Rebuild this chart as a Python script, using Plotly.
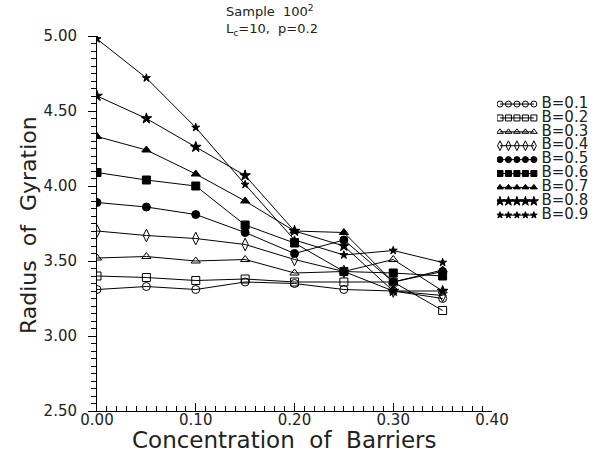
import plotly.graph_objects as go

conc = [0.00, 0.05, 0.10, 0.15, 0.20, 0.25, 0.30, 0.35]
b_labels = ["B=0.1", "B=0.2", "B=0.3", "B=0.4", "B=0.5", "B=0.6", "B=0.7", "B=0.8", "B=0.9"]
rg_b01 = [3.31, 3.33, 3.31, 3.36, 3.35, 3.31, 3.30, 3.25]
rg_b02 = [3.40, 3.39, 3.37, 3.38, 3.36, 3.36, 3.36, 3.17]
rg_b03 = [3.52, 3.53, 3.50, 3.51, 3.42, 3.43, 3.51, 3.30]
rg_b04 = [3.70, 3.67, 3.65, 3.61, 3.51, 3.43, 3.30, 3.27]
rg_b05 = [3.89, 3.86, 3.81, 3.69, 3.55, 3.64, 3.36, 3.43]
rg_b06 = [4.09, 4.04, 4.00, 3.74, 3.62, 3.43, 3.42, 3.40]
rg_b07 = [4.33, 4.24, 4.08, 3.90, 3.70, 3.69, 3.36, 3.44]
rg_b08 = [4.60, 4.45, 4.26, 4.07, 3.70, 3.60, 3.30, 3.30]
rg_b09 = [4.98, 4.72, 4.39, 4.01, 3.64, 3.54, 3.57, 3.49]
series = [rg_b01, rg_b02, rg_b03, rg_b04, rg_b05, rg_b06, rg_b07, rg_b08, rg_b09]

x_ticks = [0.00, 0.10, 0.20, 0.30, 0.40]
x_ticktext = ["0.00", "0.10", "0.20", "0.30", "0.40"]
y_ticks = [2.50, 3.00, 3.50, 4.00, 4.50, 5.00]
y_ticktext = ["2.50", "3.00", "3.50", "4.00", "4.50", "5.00"]

# legend key: five sample markers per row, row index per series
legend_key_x = [0, 1, 2, 3, 4]
legend_text_x = [4.9]

symbols = ["circle-open", "square-open", "triangle-up-open", "diamond-tall-open",
           "circle", "square", "triangle-up", "star", "star"]
sizes = [8, 8, 8, 9, 8, 8, 8, 8, 6]
key_sizes = [6, 6, 6, 7, 6, 6, 6, 7, 5]

FONT = "DejaVu Sans"
TXT = "#222"
W, H = 608, 456
L, R, T, B = 97, 8, 36, 45
PW = W - L - R
PH = H - T - B


def px_x(p):
    return (p - L) / PW


def px_y(p):
    return (H - B - p) / PH


fig = go.Figure()
for lab, ys, sym, sz in zip(b_labels, series, symbols, sizes):
    fig.add_trace(go.Scatter(
        x=conc, y=ys, name=lab, mode="lines+markers",
        line=dict(color="black", width=1),
        marker=dict(symbol=sym, size=sz, color="black", line=dict(color="black", width=1)),
        showlegend=False,
    ))

for i, (lab, sym, ks) in enumerate(zip(b_labels, symbols, key_sizes)):
    fig.add_trace(go.Scatter(
        x=legend_key_x, y=[i] * len(legend_key_x), mode="lines+markers",
        line=dict(color="black", width=1),
        marker=dict(symbol=sym, size=ks, color="black", line=dict(color="black", width=1)),
        xaxis="x2", yaxis="y2", showlegend=False, hoverinfo="skip",
    ))
    fig.add_trace(go.Scatter(
        x=legend_text_x, y=[i], mode="text", text=[lab], textposition="middle right",
        textfont=dict(size=15, family=FONT, color=TXT),
        xaxis="x2", yaxis="y2", showlegend=False, hoverinfo="skip",
    ))

fig.update_layout(
    width=W, height=H, autosize=False,
    margin=dict(l=L, r=R, t=T, b=B, autoexpand=False),
    paper_bgcolor="white", plot_bgcolor="white",
    font=dict(family=FONT, color=TXT, size=14),
    showlegend=False,
    xaxis=dict(domain=[0, px_x(492)], range=[0, 0.40], tickvals=x_ticks, ticktext=x_ticktext,
               showgrid=False, zeroline=False, showline=True, linecolor="black", linewidth=1,
               ticks="inside", ticklen=8, tickcolor="black",
               minor=dict(ticks="inside", ticklen=5, dtick=0.01, tickcolor="black"),
               tickfont=dict(size=15, family=FONT), ticklabelstandoff=-5, automargin=False),
    yaxis=dict(range=[2.50, 5.00], tickvals=y_ticks, ticktext=y_ticktext,
               showgrid=False, zeroline=False, showline=True, linecolor="black", linewidth=1,
               ticks="outside", ticklen=8, tickcolor="black",
               minor=dict(ticks="outside", ticklen=5, dtick=0.05, tickcolor="black"),
               tickfont=dict(size=15, family=FONT), ticklabelstandoff=8, automargin=False),
    xaxis2=dict(domain=[px_x(497), 1.0], range=[-0.35, 11.8], anchor="y2",
                visible=False, showgrid=False, zeroline=False),
    yaxis2=dict(domain=[0, 1], range=[22.1, -4.9], anchor="x2",
                visible=False, showgrid=False, zeroline=False),
)

fig.add_annotation(xref="paper", yref="paper", x=px_x(284), y=px_y(440),
                   xanchor="center", yanchor="middle", showarrow=False,
                   text="Concentration  of  Barriers",
                   font=dict(size=23, family=FONT, color=TXT))
fig.add_annotation(xref="paper", yref="paper", x=px_x(28), y=px_y(225),
                   xanchor="center", yanchor="middle", showarrow=False, textangle=-90,
                   text="Radius  of  Gyration",
                   font=dict(size=22, family=FONT, color=TXT))
fig.add_annotation(xref="paper", yref="paper", x=px_x(224), y=px_y(21),
                   xanchor="left", yanchor="middle", align="left", showarrow=False,
                   text="Sample  100<sup>2</sup><br>L<sub>c</sub>=10,  p=0.2",
                   font=dict(size=13, family=FONT, color=TXT))

post = ("document.body.style.margin='0';document.body.style.overflow='hidden';"
        "var gd=document.getElementById('{plot_id}');"
        "Plotly.relayout(gd,{width:%d,height:%d});" % (W, H))
fig.write_html("out.html", post_script=post,
               config={"responsive": False, "displayModeBar": False})
